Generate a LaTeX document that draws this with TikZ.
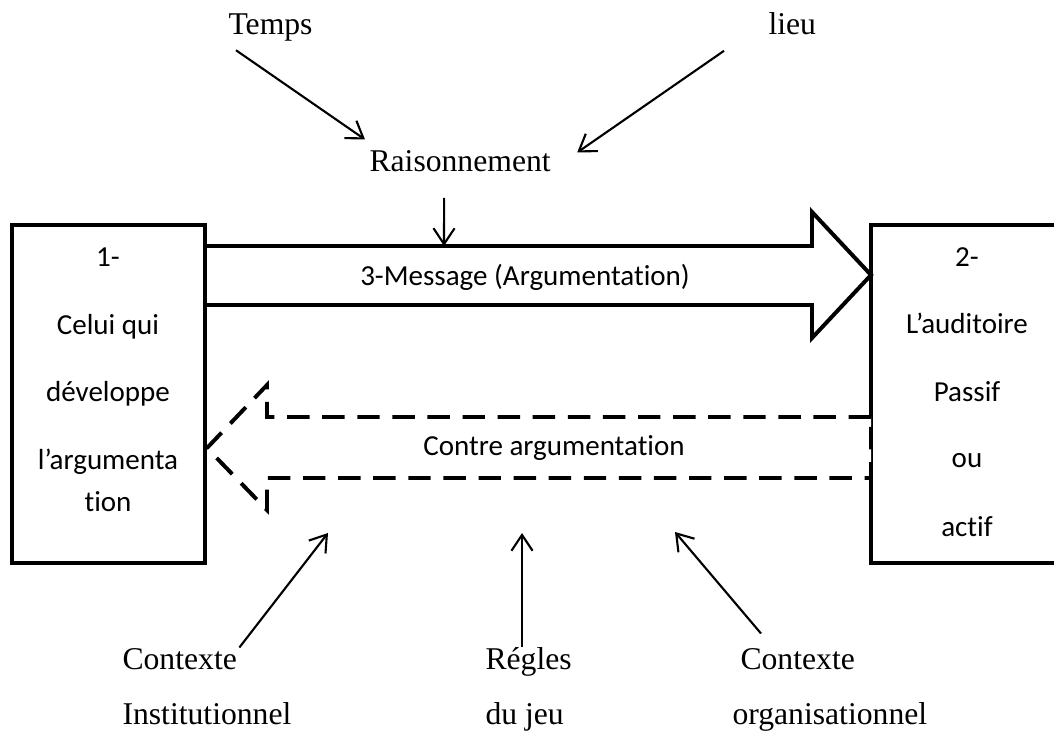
\documentclass[tikz,border=0pt]{standalone}
\usepackage{fontspec}
\setmainfont{Liberation Serif}
\newfontfamily\calibri[Ligatures=NoCommon]{Carlito}
\usepackage{tikz}
\usetikzlibrary{arrows.meta}

\begin{document}
\begin{tikzpicture}[x=0.379pt, y=0.379pt,
  boite/.style={line width=1.5pt},
  texte/.style={inner sep=0pt, font=\fontsize{12}{14}\selectfont},
  case/.style={inner sep=0pt, anchor=base, font=\calibri\fontsize{11}{13}\selectfont},
  fleche/.style={line width=0.8pt, -{Straight Barb[length=6pt,width=8pt]}},
  tirets/.style={line width=1.5pt, dash pattern=on 8.5pt off 4.8pt}]

\useasboundingbox (0,0) rectangle (1054,731);

% Boîtes
\draw[boite] (12,168) rectangle (205,506);
\draw[boite] (871,168) rectangle (1063,506);

\node[case] (g1) at (108,464) {1-};
\node[case] (g2) at (108,396) {Celui qui};
\node[case] (g3) at (108,329) {développe};
\node[case] (g4) at (108,261) {l’argumenta};
\node[case] (g5) at (108,219) {tion};

\node[case] (d1) at (967,464) {2-};
\node[case] (d2) at (967,397) {L’auditoire};
\node[case] (d3) at (967,329) {Passif};
\node[case] (d4) at (967,263) {ou};
\node[case] (d5) at (967,194) {actif};

% Message
\draw[boite] (205,485) -- (812,485) -- (812,519) -- (871,456)
  -- (812,393) -- (812,426) -- (205,426);
\node[case] (msg) at (525,445) {3-Message (Argumentation)};

% Contre argumentation
\draw[tirets, fill=white] (871,314) -- (267,314) -- (267,346) -- (207,283)
  -- (267,221) -- (267,253) -- (871,253) -- cycle;
\node[case] (contre) at (554,275) {Contre argumentation};

% Haut
\node[texte, anchor=base west] (temps) at (228,696) {Temps};
\node[texte, anchor=base west] (lieu) at (768,696) {lieu};
\node[texte, anchor=base west] (raison) at (369,559) {Raisonnement};
\coordinate (msghaut) at (444,485);

\draw[fleche] ([shift={(8,-8)}]temps.south west) -- ([shift={(-4,11)}]raison.north west);
\draw[fleche] ([shift={(-44,-15)}]lieu.south west) -- ([shift={(26,-2)}]raison.north east);
\draw[fleche] ([shift={(-16,-25)}]raison.south) -- (msghaut);

% Bas
\node[texte, anchor=base west] (ctxinst) at (122,61) {Contexte};
\node[texte, anchor=base west] (inst) at (122,6) {Institutionnel};
\node[texte, anchor=base west] (regles) at (485,61) {Régles};
\node[texte, anchor=base west] (jeu) at (485,6) {du jeu};
\node[texte, anchor=base west] (ctxorg) at (740,61) {Contexte};
\node[texte, anchor=base west] (org) at (732,6) {organisationnel};

\coordinate (bas1) at (328,198);
\coordinate (bas2) at (522,198);
\coordinate (bas3) at (675,199);

\draw[fleche] ([shift={(2,1)}]ctxinst.north east) -- (bas1);
\draw[fleche] (bas2 |- regles.north) -- (bas2);
\draw[fleche] ([shift={(21,15)}]ctxorg.north west) -- (bas3);

\end{tikzpicture}
\end{document}
